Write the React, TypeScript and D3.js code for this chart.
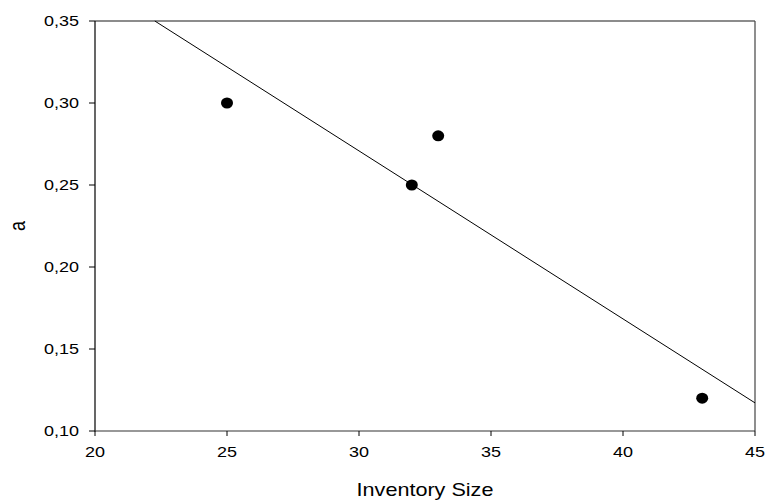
import React from "react";
import * as d3 from "d3";

const xValues = [25, 32, 33, 43];
const yValues = [0.30, 0.25, 0.28, 0.12];
const xTicks = [20, 25, 30, 35, 40, 45];
const yTicks = [0.10, 0.15, 0.20, 0.25, 0.30, 0.35];
const xLabel = "Inventory Size";
const yLabel = "a";

export default function App() {
  const W = 766, H = 501;
  const m = { left: 95, right: 755, top: 21, bottom: 431 };
  const x = d3.scaleLinear().domain([20, 45]).range([m.left, m.right]);
  const y = d3.scaleLinear().domain([0.10, 0.35]).range([m.bottom, m.top]);

  // least-squares fit from the data points
  const mx = d3.mean(xValues)!;
  const my = d3.mean(yValues)!;
  let sxy = 0, sxx = 0;
  xValues.forEach((xv, i) => { sxy += (xv - mx) * (yValues[i] - my); sxx += (xv - mx) ** 2; });
  const slope = sxy / sxx;
  const icpt = my - slope * mx;
  const x0 = Math.max(20, (0.35 - icpt) / slope);
  const x1 = 45;
  const line = d3.line<[number, number]>().x(d => x(d[0])).y(d => y(d[1]));
  const fitPath = line([[x0, icpt + slope * x0], [x1, icpt + slope * x1]]);

  const fmt = (v: number) => v.toFixed(2).replace(".", ",");
  const font = "'Liberation Sans', Arial, sans-serif";
  const sx = 1.2;

  return (
    <svg width={W} height={H} style={{ position: "absolute", left: 0, top: 0 }} fontFamily={font}>
      <rect width={W} height={H} fill="#fff" />
      {/* frame */}
      <line x1={m.left} x2={m.right} y1={m.top} y2={m.top} stroke="#666" strokeWidth={1.5} />
      <line x1={m.right} x2={m.right} y1={m.top} y2={m.bottom} stroke="#444" strokeWidth={1.2} />
      <line x1={m.left} x2={m.left} y1={m.top} y2={m.bottom + 0.5} stroke="#000" strokeWidth={1.2} />
      <line x1={m.left} x2={m.right} y1={m.bottom} y2={m.bottom} stroke="#333" strokeWidth={1.2} />
      {/* fit line */}
      <path d={fitPath || ""} fill="none" stroke="#000" strokeWidth={1} />
      {/* points */}
      {xValues.map((xv, i) => (
        <ellipse key={i} cx={x(xv)} cy={y(yValues[i])} rx={6} ry={5.5} fill="#000" />
      ))}
      {/* y ticks */}
      {yTicks.map(t => (
        <g key={t}>
          <line x1={m.left - 6} x2={m.left} y1={y(t)} y2={y(t)} stroke="#000" strokeWidth={1} />
          <text transform={`translate(${m.left - 16},${y(t)}) scale(${sx},1)`} dy="0.36em" textAnchor="end" fontSize={15} fill="#000">{fmt(t)}</text>
        </g>
      ))}
      {/* x ticks */}
      {xTicks.map(t => (
        <g key={t}>
          <line x1={x(t)} x2={x(t)} y1={m.bottom} y2={m.bottom + 5} stroke="#000" strokeWidth={1} />
          <text transform={`translate(${x(t)},${m.bottom + 26}) scale(${sx},1)`} textAnchor="middle" fontSize={15} fill="#000">{t}</text>
        </g>
      ))}
      <text transform={`translate(${(m.left + m.right) / 2},496) scale(${sx},1)`} textAnchor="middle" fontSize={18} fill="#000">{xLabel}</text>
      <text transform={`translate(25,${226}) scale(${sx},1) rotate(-90)`} textAnchor="middle" fontSize={18} fill="#000">{yLabel}</text>
    </svg>
  );
}
